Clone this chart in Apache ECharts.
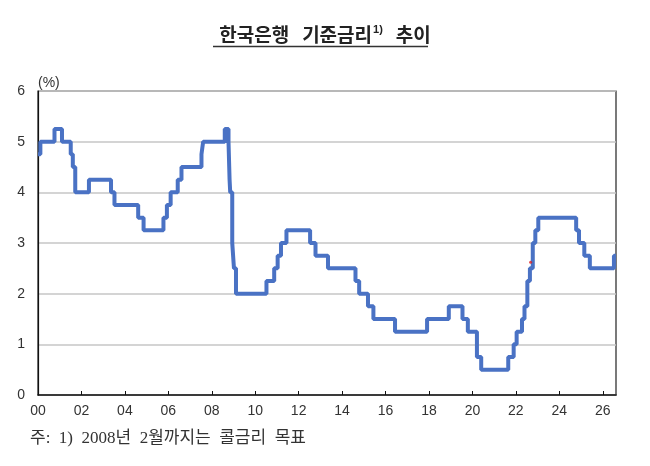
<!DOCTYPE html>
<html>
<head>
    <meta charset="utf-8">
    <title>한국은행 기준금리 추이</title>
    <script src="https://cdn.jsdelivr.net/npm/echarts@6/dist/echarts.min.js"></script>
    <style>
        html, body { margin: 0; padding: 0; background: #fff; }
    </style>
</head>
<body>
<div id="main" style="width:650px;height:466px;"></div>
<script type="text/javascript">
// 기준금리(2008년 2월까지는 콜금리 목표) 변경일과 변경 후 금리
var changeDates = [
    '2000-01-01', '2000-02-10', '2000-10-05', '2001-02-08', '2001-07-05', '2001-08-09',
    '2001-09-19', '2002-05-07', '2003-05-13', '2003-07-10', '2004-08-12', '2004-11-11',
    '2005-10-11', '2005-12-08', '2006-02-09', '2006-06-08', '2006-08-10', '2007-07-12',
    '2007-08-09', '2008-08-07', '2008-10-09', '2008-10-27', '2008-11-07', '2008-12-11',
    '2009-01-09', '2009-02-12', '2010-07-09', '2010-11-16', '2011-01-13', '2011-03-10',
    '2011-06-10', '2012-07-12', '2012-10-11', '2013-05-09', '2014-08-14', '2014-10-15',
    '2015-03-12', '2015-06-11', '2016-06-09', '2017-11-30', '2018-11-30', '2019-07-18',
    '2019-10-16', '2020-03-17', '2020-05-28', '2021-08-26', '2021-11-25', '2022-01-14',
    '2022-04-14', '2022-05-26', '2022-07-13', '2022-08-25', '2022-10-12', '2022-11-24',
    '2023-01-13', '2024-10-11', '2024-11-28', '2025-02-25', '2025-05-29', '2026-07-08',
    '2026-08-10'
];
var rates = [
    4.75, 5.00, 5.25, 5.00, 4.75, 4.50,
    4.00, 4.25, 4.00, 3.75, 3.50, 3.25,
    3.50, 3.75, 4.00, 4.25, 4.50, 4.75,
    5.00, 5.25, 5.00, 4.25, 4.00, 3.00,
    2.50, 2.00, 2.25, 2.50, 2.75, 3.00,
    3.25, 3.00, 2.75, 2.50, 2.25, 2.00,
    1.75, 1.50, 1.25, 1.50, 1.75, 1.50,
    1.25, 0.75, 0.50, 0.75, 1.00, 1.25,
    1.50, 1.75, 2.25, 2.50, 3.00, 3.25,
    3.50, 3.25, 3.00, 2.75, 2.50, 2.75,
    2.75
];
// 원본 그림에 찍혀 있는 작은 빨간 점
var redDot = [['2022-09-05', 2.62]];

var yTicks = [0, 1, 2, 3, 4, 5, 6];

// 날짜 문자열 -> 소수 연도
function toYear(s) {
    var p = s.split('-');
    var y = +p[0];
    var start = Date.UTC(y, 0, 1);
    var end = Date.UTC(y + 1, 0, 1);
    var t = Date.UTC(y, +p[1] - 1, +p[2]);
    return y + (t - start) / (end - start);
}

var lineData = [];
for (var i = 0; i < changeDates.length; i++) {
    lineData.push([toYear(changeDates[i]), rates[i]]);
}
var dotData = redDot.map(function (d) { return [toYear(d[0]), d[1]]; });

var myChart = echarts.init(document.getElementById('main'));

var option = {
    animation: false,
    backgroundColor: '#ffffff',
    title: {
        text: '{a|한국은행   기준금리}{s|1)}{a|   추이}',
        left: 'center',
        top: 19,
        textStyle: {
            rich: {
                a: {
                    fontFamily: 'Noto Sans CJK KR',
                    fontSize: 19,
                    fontWeight: 'bold',
                    color: '#222',
                    lineHeight: 22
                },
                s: {
                    fontFamily: 'Liberation Sans',
                    fontSize: 11,
                    fontWeight: 'bold',
                    color: '#222',
                    verticalAlign: 'top',
                    lineHeight: 22,
                    padding: [0, 0, 8, 1]
                }
            }
        }
    },
    graphic: [
        {
            type: 'line',
            shape: { x1: 213, y1: 46.5, x2: 428, y2: 46.5 },
            style: { stroke: '#333', lineWidth: 1.3 }
        },
        {
            type: 'text',
            left: 30,
            top: 430,
            style: {
                text: '주:  1)  2008년  2월까지는  콜금리  목표',
                fontFamily: 'Liberation Serif, Noto Sans CJK KR',
                fontSize: 17,
                fill: '#333'
            }
        }
    ],
    grid: {
        left: 38,
        right: 34,
        top: 91,
        bottom: 71,
        show: true,
        borderColor: '#222',
        borderWidth: 1.2
    },
    xAxis: {
        type: 'value',
        min: 2000,
        max: 2026.61,
        interval: 2,
        axisLine: { show: true, lineStyle: { color: '#111', width: 1.5 } },
        axisTick: { show: true, inside: true, length: 4, lineStyle: { color: '#111', width: 1 } },
        splitLine: { show: false },
        axisLabel: {
            margin: 9,
            fontFamily: 'Liberation Sans',
            fontSize: 14,
            color: '#333',
            showMaxLabel: false,
            formatter: function (v) {
                if (Math.abs(v - Math.round(v)) > 1e-6) return '';
                var yy = Math.round(v) % 100;
                return (yy < 10 ? '0' : '') + yy;
            }
        }
    },
    yAxis: {
        type: 'value',
        min: yTicks[0],
        max: yTicks[yTicks.length - 1],
        interval: 1,
        name: '(%)',
        nameLocation: 'end',
        nameGap: 1,
        nameTextStyle: {
            fontFamily: 'Liberation Sans',
            fontSize: 14,
            color: '#333',
            align: 'left'
        },
        axisLine: { show: true, lineStyle: { color: '#111', width: 1.2 } },
        axisTick: { show: false },
        splitLine: { show: true, lineStyle: { color: '#c6c6c6', width: 1.5 } },
        axisLabel: {
            margin: 13,
            fontFamily: 'Liberation Sans',
            fontSize: 14,
            color: '#333'
        }
    },
    series: [
        {
            name: '기준금리',
            type: 'line',
            step: 'end',
            data: lineData,
            showSymbol: false,
            symbol: 'none',
            lineStyle: { color: '#4a72c4', width: 4 }
        },
        {
            name: 'dot',
            type: 'scatter',
            data: dotData,
            symbolSize: 3,
            itemStyle: { color: '#e02020' },
            z: 5
        }
    ]
};

myChart.setOption(option);
</script>
</body>
</html>
